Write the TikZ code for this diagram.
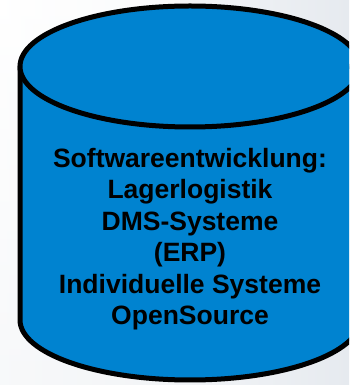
\documentclass[tikz,border=0pt]{standalone}
\usepackage{fontspec}
\setmainfont{Liberation Sans}
\definecolor{cylblue}{RGB}{0,131,208}
\definecolor{bgright}{RGB}{230,234,239}
\begin{document}
\begin{tikzpicture}[x=1pt,y=1pt,
  cylline/.style={line width=5pt,draw=black,fill=cylblue,line join=round},
  labeltext/.style={align=center,font=\fontsize{26.5}{31.5}\selectfont\bfseries,text=black,inner sep=0pt}]
\useasboundingbox (0,0) rectangle (349,385);
\clip (0,0) rectangle (349,385);
\shade[left color=white,right color=bgright,shading angle=90] (0,0) rectangle (349,385);
\shade[top color=white,bottom color=white!50!bgright,opacity=0.6] (0,0) rectangle (180,385);
% cylinder body
\path[cylline] (20,318.5) -- (20,65) arc[start angle=180,end angle=360,x radius=170,y radius=60] -- (360,318.5) -- cycle;
% top ellipse
\path[cylline] (190,318.5) ellipse[x radius=170,y radius=60.5];
\node[labeltext] (txt) at (190,146) {Softwareentwicklung:\\Lagerlogistik\\DMS-Systeme\\(ERP)\\Individuelle Systeme\\OpenSource};
\end{tikzpicture}
\end{document}
